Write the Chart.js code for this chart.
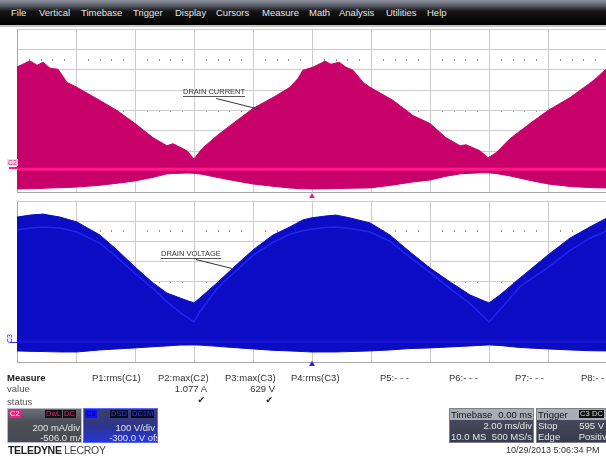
<!DOCTYPE html>
<html><head><meta charset="utf-8">
<script src="https://cdn.jsdelivr.net/npm/chart.js@4.4.1/dist/chart.umd.min.js"></script>
<style>
html,body{margin:0;padding:0;width:606px;height:457px;overflow:hidden;background:#fff;font-family:"Liberation Sans",Arial,sans-serif;}
.abs{position:absolute;white-space:nowrap;}
#menu{position:absolute;left:0;top:0;width:606px;height:25px;background:linear-gradient(#8d929e 0%,#5a5e68 22%,#141416 45%,#000 100%);border-bottom:2px solid #c4c4c4;z-index:5;}
#menu span{position:absolute;top:7px;font-size:9.5px;color:#e6e6e6;}
canvas{position:absolute;left:0;}
.t{position:absolute;white-space:nowrap;font-size:9.5px;line-height:11px;color:#333;}
.box{position:absolute;overflow:hidden;box-sizing:border-box;}
.tag{position:absolute;top:1px;height:8px;font-size:7.5px;line-height:8px;padding:0 1px;}
.row{position:absolute;font-size:9.5px;line-height:10px;white-space:nowrap;}
.ann{position:absolute;font-size:7.5px;line-height:8px;color:#333;border-bottom:1px solid #555;white-space:nowrap;}
</style></head>
<body>
<div id="menu"></div>
<canvas id="cTop" width="620" height="186" style="top:20px"></canvas>
<canvas id="cBot" width="620" height="174" style="top:196px"></canvas>
<div id="overlay"></div>
<script>
// ---------- data ----------
const menuItems = ['File','Vertical','Timebase','Trigger','Display','Cursors','Measure','Math','Analysis','Utilities','Help'];

// time axis (ms), 2 ms/div, 10 div
const timePerDiv = 2;
const timeDelay = 0;

// C2 : drain current (mA), 200 mA/div, offset -506 mA
const curPerDiv = 200;
const curOffset = -506;
const curTime  = [-10,-9.56,-9.32,-9.12,-8.88,-8.61,-8.31,-7.97,-7.19,-6.61,-6.0,-5.39,-4.92,-4.71,-4.24,-4.0,-3.73,-3.22,-2.68,-2.0,-1.32,-0.75,-0.47,-0.31,0.03,0.44,0.64,0.92,1.15,1.39,1.73,1.97,2.75,3.42,4.0,4.54,5.02,5.22,5.69,5.97,6.24,6.71,7.39,8.0,8.75,9.42,9.63,10];
const curUpper = [934,993,950,980,921,911,783,733,605,506,378,239,160,180,111,30,131,259,378,526,634,733,822,901,931,990,960,980,931,901,783,733,605,457,378,239,160,170,111,42,91,229,378,506,634,773,822,921];
const curLower = [-264,-262,-260,-258,-255,-252,-250,-245,-228,-208,-185,-150,-116,-112,-108,-110,-120,-150,-180,-215,-238,-254,-260,-262,-264,-263,-262,-260,-258,-256,-255,-254,-225,-195,-176,-140,-116,-112,-106,-106,-112,-136,-180,-215,-240,-250,-252,-254];
const curBaseline = [-70,-70];

// C3 : drain voltage (V), 100 V/div, offset -300 V
const voltPerDiv = 100;
const voltOffset = -300;
const voltTime  = [-10,-9.56,-9.12,-8.54,-7.97,-7.19,-6.61,-6.0,-5.39,-4.92,-4.47,-4.0,-3.8,-3.22,-2.68,-2.0,-1.32,-0.75,-0.31,-0.03,0.44,0.81,1.29,1.97,2.64,3.32,4.0,4.68,5.36,6.0,6.37,7.05,8.0,8.75,9.42,10];
const voltUpper = [620,630,635,620,596,531,457,372,293,243,218,193,218,293,367,457,531,571,606,616,625,630,616,591,531,447,367,298,233,193,233,317,432,516,571,616];
const voltLower = [-45,-47,-48,-50,-50,-40,-35,-30,-24,-20,-16,-15,-16,-22,-28,-35,-42,-45,-48,-50,-50,-50,-48,-45,-40,-33,-30,-25,-20,-15,-18,-28,-35,-40,-44,-45];
const voltMean  = [556,566,571,566,546,490,420,340,265,200,145,99,150,265,340,430,495,535,552,560,568,571,563,546,500,420,345,265,190,99,160,275,370,455,515,552];
const voltBaseline = [0,0];

// measurement table
const measureHeaders = ['P1:rms(C1)','P2:max(C2)','P3:max(C3)','P4:rms(C3)','P5:- - -','P6:- - -','P7:- - -','P8:- -'];
const measureValues  = ['','1.077 A','629 V','','','','',''];
const measureStatus  = ['','\u2714','\u2714','','','','',''];
</script>
<script>
// ---------- layout (positions only) ----------
const menuX = [11,39,81,133,175,216,262,309,339,386,427];
const measX = [92,158,225,291,380,449,515,581];
const measW = [48,49,50,50,30,30,30,30];

const menu = document.getElementById('menu');
menuItems.forEach((m,i)=>{const s=document.createElement('span');s.textContent=m;s.style.left=menuX[i]+'px';menu.appendChild(s);});

const ov = document.getElementById('overlay');
function add(html){ov.insertAdjacentHTML('beforeend',html);}

// annotations
add('<div class="ann" style="left:183px;top:88px;">DRAIN CURRENT</div>');
add('<div class="ann" style="left:161px;top:250px;">DRAIN VOLTAGE</div>');
// channel labels
add('<div class="abs" style="left:7px;top:159px;font-size:7px;line-height:7px;color:#e8207f;background:#fbd3e6;padding:0 1px;">C2</div>');
add('<div class="abs" style="left:9px;top:167px;width:8px;height:2px;background:#ff1a8c;"></div>');
add('<div class="abs" style="left:6px;top:333px;width:7px;height:10px;"><div style="position:absolute;left:0;top:0;font-size:7px;line-height:7px;color:#2020ff;transform:translate(0,10px) rotate(-90deg);transform-origin:left top;">C3</div></div>');
add('<div class="abs" style="left:10px;top:342px;width:7px;height:1px;background:#3030ff;"></div>');

// measurement area
add('<div class="t" style="left:7px;top:372px;font-weight:bold;color:#222;">Measure</div>');
add('<div class="t" style="left:7px;top:383px;color:#555;">value</div>');
add('<div class="t" style="left:7px;top:396px;color:#555;">status</div>');
measureHeaders.forEach((h,i)=>{
  add('<div class="t" style="left:'+measX[i]+'px;top:372px;">'+h+'</div>');
  if(measureValues[i]) add('<div class="t" style="left:'+measX[i]+'px;width:'+measW[i]+'px;text-align:right;top:383px;">'+measureValues[i]+'</div>');
  if(measureStatus[i]) add('<div class="t" style="left:'+measX[i]+'px;width:'+(measW[i]-2)+'px;text-align:right;top:395px;font-family:\'DejaVu Sans\';font-size:9px;color:#222;">'+measureStatus[i]+'</div>');
});

// channel boxes
add('<div class="box" style="left:7px;top:408px;width:75px;height:35px;background:linear-gradient(#6a6e78,#4b4f58 40%,#474a52);border:1px solid #b8bcc4;">'+
  '<div class="tag" style="left:1px;background:#e8207f;color:#fff;">C2</div>'+
  '<div class="tag" style="left:37px;background:#111;color:#e8207f;">DwL</div>'+
  '<div class="tag" style="left:55px;background:#111;color:#e8207f;">DC</div>'+
  '<div class="row" style="right:1px;top:14px;color:#e4e4e4;">200 mA/div</div>'+
  '<div class="row" style="right:-3px;top:24px;color:#e4e4e4;">-506.0 mA</div></div>');
add('<div class="box" style="left:83px;top:408px;width:75px;height:35px;background:linear-gradient(#3c4068,#2c3490 55%,#2436e0);border:1px solid #5a6cff;">'+
  '<div class="tag" style="left:1px;background:#1010ff;color:#000a60;">C3</div>'+
  '<div class="tag" style="left:26px;background:#0a0a20;color:#2a3aff;">DSD</div>'+
  '<div class="tag" style="left:47px;background:#0a0a20;color:#2a3aff;">DC1M</div>'+
  '<div class="row" style="right:2px;top:14px;color:#e4e4e4;">100 V/div</div>'+
  '<div class="row" style="right:-6px;top:24px;color:#e4e4e4;">-300.0 V ofst</div></div>');
add('<div class="abs" style="left:8px;top:444px;font-size:10.5px;line-height:12px;color:#222;letter-spacing:-0.3px;"><b>TELEDYNE</b> <span style="color:#444;">LECROY</span></div>');

// timebase / trigger boxes
add('<div class="box" style="left:449px;top:408px;width:85px;height:35px;background:linear-gradient(#4c5262,#353b4c);border:1px solid #7c808a;">'+
  '<div class="row" style="left:0;top:0;width:85px;height:11px;background:#a9adb5;"></div>'+
  '<div class="row" style="left:1px;top:1px;color:#111;">Timebase</div>'+
  '<div class="row" style="right:1px;top:1px;color:#111;">0.00 ms</div>'+
  '<div class="row" style="right:1px;top:12px;color:#e6e6e6;">2.00 ms/div</div>'+
  '<div class="row" style="left:1px;top:23px;color:#e6e6e6;">10.0 MS</div>'+
  '<div class="row" style="right:1px;top:23px;color:#e6e6e6;">500 MS/s</div></div>');
add('<div class="box" style="left:536px;top:408px;width:76px;height:35px;background:linear-gradient(#4c5262,#353b4c);border:1px solid #7c808a;">'+
  '<div class="row" style="left:0;top:0;width:76px;height:11px;background:#a9adb5;"></div>'+
  '<div class="row" style="left:1px;top:1px;color:#111;">Trigger</div>'+
  '<div class="tag" style="left:42px;background:#111;color:#ddd;">C3</div>'+
  '<div class="tag" style="left:54px;background:#111;color:#ddd;">DC</div>'+
  '<div class="row" style="left:1px;top:12px;color:#e6e6e6;">Stop</div>'+
  '<div class="row" style="right:7px;top:12px;color:#e6e6e6;">595 V</div>'+
  '<div class="row" style="left:1px;top:23px;color:#e6e6e6;">Edge</div>'+
  '<div class="row" style="right:-1px;top:23px;color:#e6e6e6;">Positive</div></div>');
add('<div class="abs" style="left:506px;top:445px;font-size:9px;line-height:11px;color:#333;">10/29/2013 5:06:34 PM</div>');

// ---------- charts ----------
const pts = (t,v)=>t.map((x,i)=>({x:x,y:v[i]}));
const MAG='#c8006a', MAG_BRIGHT='#ff1a8c', BLUE='#0c0cc4', BLUE_BRIGHT='#2424f2';

const graticule = {
  id:'graticule',
  beforeDraw(chart,args,o){
    const {ctx,scales:{x,y}}=chart;
    const yc=(y.min+y.max)/2, div=(y.max-y.min)/8;
    ctx.save(); ctx.fillStyle='#8c8c8c';
    [yc, yc+2.5*div].forEach(v=>{
      const py=Math.round(y.getPixelForValue(v));
      for(let k=0;k<=50;k++){
        const px=Math.round(x.getPixelForValue(x.min+k*(x.max-x.min)/50));
        ctx.fillRect(px,py-1,1,2);
      }
    });
    ctx.restore();
  },
  afterDraw(chart,args,o){
    const {ctx,chartArea:a,scales:{x,y}}=chart;
    ctx.save();
    const px=x.getPixelForValue(o.trigger);
    ctx.fillStyle=o.markColor;
    ctx.beginPath(); ctx.moveTo(px,a.bottom+o.markGap); ctx.lineTo(px-3,a.bottom+o.markGap+5); ctx.lineTo(px+3,a.bottom+o.markGap+5); ctx.closePath(); ctx.fill();
    if(o.leader){
      ctx.strokeStyle='#333'; ctx.lineWidth=1;
      ctx.beginPath();
      ctx.moveTo(x.getPixelForValue(o.leader[0]),y.getPixelForValue(o.leader[1]));
      ctx.lineTo(x.getPixelForValue(o.leader[2]),y.getPixelForValue(o.leader[3]));
      ctx.stroke();
    }
    ctx.restore();
  }
};

function scope(id, datasets, perDiv, offset, pad, grat){
  const yMin=-offset-4*perDiv, yMax=-offset+4*perDiv;
  const xMin=timeDelay-5*timePerDiv, xMax=timeDelay+5*timePerDiv;
  return new Chart(document.getElementById(id),{
    type:'line',
    data:{datasets:datasets},
    options:{
      responsive:false, animation:false, events:[],
      layout:{padding:pad},
      elements:{point:{radius:0},line:{tension:0}},
      plugins:{legend:{display:false},tooltip:{enabled:false},filler:{drawTime:'beforeDatasetsDraw'},graticule:grat},
      scales:{
        x:{type:'linear',min:xMin,max:xMax,
           afterBuildTicks:s=>{s.ticks=[];for(let i=0;i<=10;i++)s.ticks.push({value:xMin+i*timePerDiv});},
           ticks:{display:false},grid:{color:'#cccccc',drawTicks:false},border:{color:'#a8a8a8'}},
        y:{type:'linear',min:yMin,max:yMax,
           afterBuildTicks:s=>{s.ticks=[];for(let i=0;i<=8;i++)s.ticks.push({value:yMin+i*perDiv});},
           ticks:{display:false},grid:{color:'#cccccc',drawTicks:false},border:{color:'#a8a8a8'}}
      }
    },
    plugins:[graticule]
  });
}

scope('cTop',[
  {data:pts(curTime,curUpper),borderColor:MAG,backgroundColor:MAG,borderWidth:1,fill:'+1'},
  {data:pts(curTime,curLower),borderColor:MAG,borderWidth:1,fill:false},
  {data:pts([timeDelay-5*timePerDiv,timeDelay+5*timePerDiv],curBaseline),borderColor:MAG_BRIGHT,borderWidth:3,fill:false}
], curPerDiv, curOffset, {left:17,top:9,right:13,bottom:14},
  {trigger:0,markColor:'#f0207f',markGap:1,leader:[-3.25,624,-1.76,516]});

scope('cBot',[
  {data:pts(voltTime,voltUpper),borderColor:BLUE,backgroundColor:BLUE,borderWidth:1,fill:'+1'},
  {data:pts(voltTime,voltLower),borderColor:BLUE,borderWidth:1,fill:false},
  {data:pts(voltTime,voltMean),borderColor:BLUE_BRIGHT,borderWidth:1.5,fill:false},
  {data:pts([timeDelay-5*timePerDiv,timeDelay+5*timePerDiv],voltBaseline),borderColor:'#2222e0',borderWidth:1,fill:false}
], voltPerDiv, voltOffset, {left:17,top:5,right:13,bottom:8},
  {trigger:0,markColor:'#2020ff',markGap:-1,leader:[-3.93,409,-2.64,362]});
</script>
</body></html>
